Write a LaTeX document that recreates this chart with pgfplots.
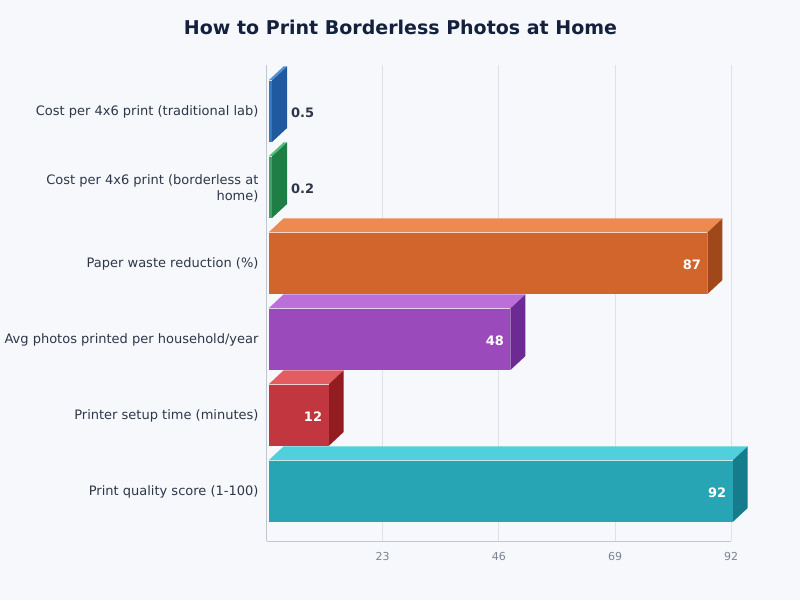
\documentclass[border=0pt]{standalone}
\usepackage{pgfplots}
\pgfplotsset{compat=1.18}
\usepackage{fontspec}
\setmainfont{DejaVu Sans}

\definecolor{bg}{HTML}{F6F8FC}
\definecolor{titlecol}{HTML}{14213D}
\definecolor{labelcol}{HTML}{2D3748}
\definecolor{tickcol}{HTML}{7A8494}
\definecolor{gridcol}{HTML}{DEE1E7}
\definecolor{axiscol}{HTML}{C2C6CE}

\definecolor{tealF}{HTML}{27A5B5}\definecolor{tealT}{HTML}{4FD0DC}\definecolor{tealS}{HTML}{147C8A}
\definecolor{redF}{HTML}{C2363F}\definecolor{redT}{HTML}{E25C62}\definecolor{redS}{HTML}{921C20}
\definecolor{purF}{HTML}{9B4ABB}\definecolor{purT}{HTML}{BC6FD8}\definecolor{purS}{HTML}{6C2A92}
\definecolor{orgF}{HTML}{D2652C}\definecolor{orgT}{HTML}{EE8A50}\definecolor{orgS}{HTML}{A0481A}
\definecolor{grnF}{HTML}{3DA566}\definecolor{grnT}{HTML}{4FBF7C}\definecolor{grnS}{HTML}{1E7E45}
\definecolor{bluF}{HTML}{3A78BC}\definecolor{bluT}{HTML}{4F94DA}\definecolor{bluS}{HTML}{1F5A9E}

% value, row, front, top, side (thin bars are held at a minimum width)
\newcommand{\boxbar}[5]{
    \pgfmathsetmacro{\w}{max(#1,0.8)+0.3}
    \pgfmathsetmacro{\yl}{#2-0.408}
    \pgfmathsetmacro{\yh}{#2+0.402}
    \pgfmathsetmacro{\xb}{\w+2.97}
    \pgfmathsetmacro{\yb}{\yl+0.184}
    \pgfmathsetmacro{\yt}{\yh+0.184}
    \addplot[fill=#4, draw=none] coordinates {(0.4,\yh) (\w,\yh) (\xb,\yt) (3.37,\yt)} -- cycle;
    \addplot[fill=#5, draw=none] coordinates {(\w,\yl) (\w,\yh) (\xb,\yt) (\xb,\yb)} -- cycle;
    \addplot[fill=#3, draw=none] coordinates {(0.4,\yl) (\w,\yl) (\w,\yh) (0.4,\yh)} -- cycle;
    \addplot[white, opacity=0.75, line width=1pt] coordinates {(0.4,\yh) (\w,\yh)};
}

\begin{document}
\begin{tikzpicture}[x=1pt,y=1pt]
\fill[bg] (0,0) rectangle (800,600);
\node[font=\bfseries\fontsize{19}{22}\selectfont, text=titlecol] at (400.5,572.5) {How to Print Borderless Photos at Home};
\begin{axis}[
    at={(266.5pt,59pt)},
    anchor=south west,
    scale only axis,
    width=464.7pt,
    height=476pt,
    xmin=0, xmax=92,
    ymin=-0.658, ymax=5.605,
    clip=false,
    axis lines=left,
    axis line style={axiscol, line width=1pt, -},
    xtick={23,46,69,92},
    ytick={0,1,2,3,4,5},
    yticklabels={Print quality score (1-100), Printer setup time (minutes), Avg photos printed per household/year, Paper waste reduction (\%), {Cost per 4x6 print (borderless at\\home)}, Cost per 4x6 print (traditional lab)},
    major tick length=0pt,
    xmajorgrids,
    major grid style={gridcol, line width=1pt},
    x tick label style={font=\fontsize{11}{12}\selectfont, text=tickcol, yshift=-8pt},
    y tick label style={font=\fontsize{13}{16}\selectfont, text=labelcol, align=right, xshift=-4.5pt, yshift=-1pt},
    /pgf/number format/assume math mode=true,
    inlabel/.style={draw=none, mark=none, point meta=x, nodes near coords,
        nodes near coords style={anchor=east, xshift=-1.5pt, yshift=-1.5pt, text=white, font=\bfseries\fontsize{13}{16}\selectfont}},
    outlabel/.style={draw=none, mark=none, point meta=x, nodes near coords,
        nodes near coords style={anchor=west, xshift=#1, yshift=-2pt, text=labelcol, font=\bfseries\fontsize{13}{16}\selectfont}},
]

\boxbar{92}{0}{tealF}{tealT}{tealS}
\boxbar{12}{1}{redF}{redT}{redS}
\boxbar{48}{2}{purF}{purT}{purS}
\boxbar{87}{3}{orgF}{orgT}{orgS}
\boxbar{0.2}{4}{grnF}{grnT}{grnS}
\boxbar{0.5}{5}{bluF}{bluT}{bluS}

\addplot[inlabel] coordinates {(92,0) (12,1) (48,2) (87,3)};
\addplot[outlabel=18.5pt] coordinates {(0.5,5)};
\addplot[outlabel=20pt] coordinates {(0.2,4)};

\end{axis}
\end{tikzpicture}
\end{document}
